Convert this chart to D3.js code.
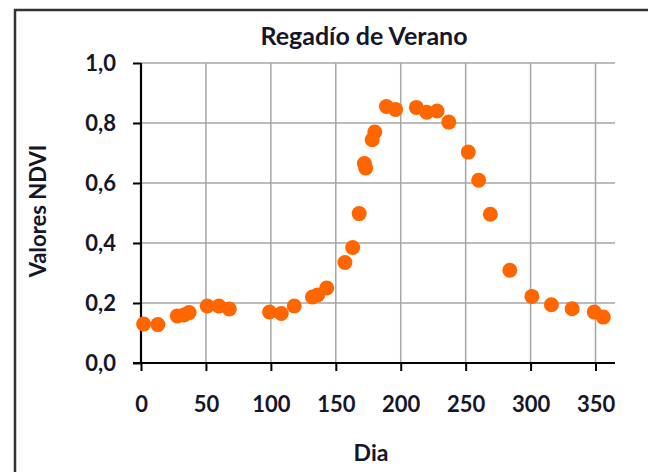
<!DOCTYPE html>
<html>
<head>
<meta charset="utf-8">
<script src="https://cdn.jsdelivr.net/npm/d3@7"></script>
<style>
  body { margin: 0; background: #fff; }
  text { font-family: Lato, "Open Sans", sans-serif; font-weight: bold; fill: #16162a; }
</style>
</head>
<body>
<svg id="chart" width="648" height="472"></svg>
<script>
// dia del año y valor NDVI
const dias = [2, 13, 28, 33, 37, 51, 60, 68, 99, 108, 118, 132, 136, 143, 157, 163, 168, 172, 173, 178, 180, 189, 196, 212, 220, 228, 237, 252, 260, 269, 284, 301, 316, 332, 349, 356];
const ndvi = [0.13, 0.128, 0.157, 0.16, 0.168, 0.19, 0.19, 0.18, 0.17, 0.165, 0.19, 0.22, 0.227, 0.25, 0.335, 0.385, 0.498, 0.665, 0.65, 0.744, 0.77, 0.855, 0.845, 0.852, 0.836, 0.84, 0.803, 0.703, 0.609, 0.496, 0.309, 0.222, 0.194, 0.181, 0.17, 0.153];
const xTicks = [0, 50, 100, 150, 200, 250, 300, 350];
const yTicks = [0, 0.2, 0.4, 0.6, 0.8, 1.0];

const svg = d3.select('#chart');
const pLeft = 141, pRight = 615, pTop = 63, pBottom = 363;

// marco exterior (el borde derecho y el inferior quedan fuera)
svg.append('rect')
    .attr('x', 15).attr('y', 10)
    .attr('width', 700).attr('height', 500)
    .attr('fill', 'none').attr('stroke', '#333').attr('stroke-width', 2.5);

const x = d3.scaleLinear().domain([0, 365]).range([pLeft, pRight]);
const y = d3.scaleLinear().domain([0, 1]).range([pBottom, pTop]);

// rejilla
svg.append('g').selectAll('line').data(yTicks.slice(1)).enter().append('line')
    .attr('x1', pLeft).attr('x2', pRight)
    .attr('y1', d => y(d)).attr('y2', d => y(d))
    .attr('stroke', '#a6a6a6').attr('stroke-width', 1.5);
svg.append('g').selectAll('line').data(xTicks.slice(1)).enter().append('line')
    .attr('x1', d => x(d)).attr('x2', d => x(d))
    .attr('y1', pTop).attr('y2', pBottom)
    .attr('stroke', '#a6a6a6').attr('stroke-width', 1.5);

const fmt = d => d3.format('.1f')(d).replace('.', ',');

const yAxis = svg.append('g')
    .attr('transform', `translate(${pLeft},0)`)
    .call(d3.axisLeft(y).tickValues(yTicks).tickFormat(fmt).tickSize(8).tickPadding(17));
const xAxis = svg.append('g')
    .attr('transform', `translate(0,${pBottom})`)
    .call(d3.axisBottom(x).tickValues(xTicks).tickSize(8).tickPadding(25));

[yAxis, xAxis].forEach(a => {
    a.select('.domain').attr('stroke', '#000').attr('stroke-width', 2.2);
    a.selectAll('.tick line').attr('stroke', '#000').attr('stroke-width', 2);
    a.selectAll('text').attr('font-size', 22).attr('font-family', null).attr('fill', null);
});
yAxis.select('.domain').attr('d', `M-0,${pTop}V${pBottom}`);
xAxis.select('.domain').attr('d', `M${pLeft - 8},0H${pRight}`);

// puntos
svg.append('g').selectAll('circle').data(dias).enter().append('circle')
    .attr('cx', d => x(d))
    .attr('cy', (d, i) => y(ndvi[i]))
    .attr('r', 7.5)
    .attr('fill', '#ff6600');

// titulos
svg.append('text').attr('x', 364).attr('y', 45).attr('text-anchor', 'middle')
    .attr('font-size', 25).text('Regadío de Verano');
svg.append('text').attr('x', 371).attr('y', 461).attr('text-anchor', 'middle')
    .attr('font-size', 23).text('Dia');
svg.append('text').attr('transform', 'translate(46,211) rotate(-90)').attr('text-anchor', 'middle')
    .attr('font-size', 22).text('Valores NDVI');
</script>
</body>
</html>
